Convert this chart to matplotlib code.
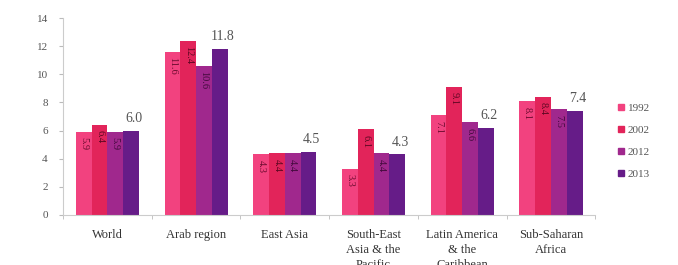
import matplotlib
matplotlib.use("Agg")
import matplotlib.pyplot as plt
import numpy as np

# Chart data
regions = ["World", "Arab region", "East Asia", "South-East\nAsia & the\nPacific",
           "Latin America\n& the\nCaribbean", "Sub-Saharan\nAfrica"]
years = ["1992", "2002", "2012", "2013"]
v1992 = [5.9, 11.6, 4.3, 3.3, 7.1, 8.1]
v2002 = [6.4, 12.4, 4.4, 6.1, 9.1, 8.4]
v2012 = [5.9, 10.6, 4.4, 4.4, 6.6, 7.5]
v2013 = [6.0, 11.8, 4.5, 4.3, 6.2, 7.4]
y_ticks = [0, 2, 4, 6, 8, 10, 12, 14]

series = [v1992, v2002, v2012, v2013]
colors = ["#F2427F", "#E2245A", "#A0288D", "#661C88"]
label_colors = ["#6E0C30", "#5E0822", "#420A3C", "#333333"]

plt.rcParams['font.family'] = ['Liberation Serif', 'DejaVu Serif']

fig = plt.figure(figsize=(6.78, 2.65), dpi=100)
ax = fig.add_axes([0.093, 0.189, 0.785, 0.743])

x = np.arange(len(regions))
width = 0.178

for i, (vals, col) in enumerate(zip(series, colors)):
    pos = x + (i - 1.5) * width
    bars = ax.bar(pos, vals, width, color=col, label=years[i], zorder=2)
    for b, v in zip(bars, vals):
        cx = b.get_x() + b.get_width() / 2
        if i < 3:
            # rotated label inside the top of the bar
            ax.annotate(f"{v:.1f}", (cx, v), xytext=(0, -4), textcoords='offset points',
                        rotation=270, ha='center', va='top', fontsize=7.5,
                        color=label_colors[i], zorder=3)
        else:
            ax.annotate(f"{v:.1f}", (cx, v), xytext=(2, 4), textcoords='offset points',
                        ha='center', va='bottom', fontsize=10, color='#555555', zorder=3)

ax.set_xlim(-0.5, len(regions) - 0.5)
ax.set_ylim(0, 14)
ax.set_yticks(y_ticks)
ax.set_xticks(x)
ax.set_xticklabels(regions, fontsize=9, color='#333333', linespacing=1.35)
ax.set_xticks(np.arange(len(regions) + 1) - 0.5, minor=True)

ax.tick_params(axis='x', which='major', length=0, pad=10)
ax.tick_params(axis='x', which='minor', length=3, color='#bbbbbb', direction='out')
ax.tick_params(axis='y', length=3, color='#bbbbbb', labelsize=8, labelcolor='#555555', pad=8)

for s in ['top', 'right']:
    ax.spines[s].set_visible(False)
ax.spines['left'].set_color('#cccccc')
ax.spines['bottom'].set_color('#cccccc')

# Legend with small square markers
handles = [plt.Line2D([], [], marker='s', linestyle='', markersize=4,
                      color=c) for c in colors]
leg = fig.legend(handles, years, loc='upper left', bbox_to_anchor=(0.903, 0.63),
                 frameon=False, fontsize=8, handlelength=0.6, handletextpad=0.3,
                 labelspacing=1.1, borderpad=0)
for t in leg.get_texts():
    t.set_color('#555555')

fig.savefig("out.png", dpi=100)
